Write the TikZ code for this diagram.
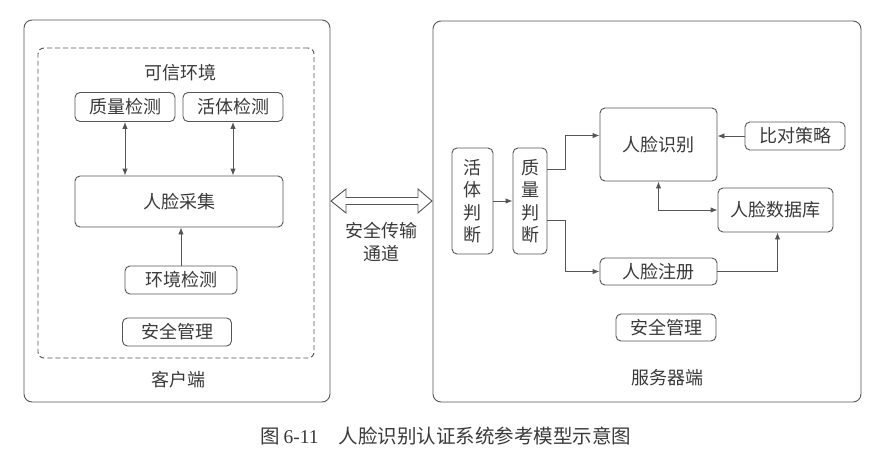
\documentclass[tikz,border=0pt]{standalone}
\usepackage{fontspec}
\setmainfont{Noto Sans CJK SC}
\newfontfamily\capnum{Liberation Serif}
\usetikzlibrary{arrows.meta,calc}
\definecolor{gcol}{HTML}{555555}
\definecolor{tcol}{HTML}{3A3A3A}
\tikzset{
  box/.style={draw=gcol, line width=0.9, rounded corners=5, inner sep=0, text=tcol,
    font=\fontsize{18}{22}\selectfont},
  outerbox/.style={draw=gcol, line width=0.9, rounded corners=8, inner sep=0},
  lbl/.style={text=tcol, inner sep=0, font=\fontsize{18}{22}\selectfont},
  arr/.style={draw=gcol, line width=0.9, -{Latex[length=7,width=5.5]}},
  darr/.style={draw=gcol, line width=0.9, {Latex[length=7,width=5.5]}-{Latex[length=7,width=5.5]}},
}
\begin{document}
\begin{tikzpicture}[x=1pt,y=-1pt]
\useasboundingbox[fill=white] (0,0) rectangle (895,459);
% client
\node[outerbox, minimum width=306, minimum height=382] (client) at (177,211) {};
\node[draw=gcol, line width=0.9, dashed, dash pattern=on 5pt off 3pt, rounded corners=6, minimum width=276, minimum height=310, inner sep=0] (trust) at (176,203) {};
\node[lbl] (trustlbl) at (180,73) {可信环境};
\node[box, minimum width=100, minimum height=29] (qc) at (125,107) {质量检测};
\node[box, minimum width=100, minimum height=29] (lc) at (233,107) {活体检测};
\node[box, minimum width=208, minimum height=51] (cj) at (179,201.5) {人脸采集};
\node[box, minimum width=112, minimum height=28] (env) at (181,280) {环境检测};
\node[box, minimum width=109, minimum height=28] (sec1) at (177,332) {安全管理};
\node[lbl] (clientlbl) at (178,380) {客户端};
\draw[darr] (qc.south) -- (qc.south |- cj.north);
\draw[darr] (lc.south) -- (lc.south |- cj.north);
\draw[arr] (env.north) -- (env.north |- cj.south);
% channel
\draw[draw=gcol, line width=0.9, fill=white]
  (331,201) -- (346,189) -- (346,197.5) -- (418,197.5) -- (418,189) -- (432,201)
  -- (418,213) -- (418,204.5) -- (346,204.5) -- (346,213) -- cycle;
\node[lbl, align=center, font=\fontsize{18}{23}\selectfont] (chlbl) at (381,242) {安全传输\\通道};
% server
\node[outerbox, minimum width=428, minimum height=381] (server) at (647,211.5) {};
\node[box, minimum width=41, minimum height=106, align=center, font=\fontsize{18}{22.5}\selectfont] (hj) at (472.5,201) {活\\体\\判\\断};
\node[box, minimum width=34, minimum height=106, align=center, font=\fontsize{18}{22.5}\selectfont] (zj) at (530,201) {质\\量\\判\\断};
\node[box, minimum width=117, minimum height=73] (rec) at (658.5,144.5) {人脸识别};
\node[box, minimum width=100, minimum height=28] (cmp) at (795,136) {比对策略};
\node[box, minimum width=115, minimum height=44] (db) at (775.5,210) {人脸数据库};
\node[box, minimum width=117, minimum height=27] (reg) at (658.5,271.5) {人脸注册};
\node[box, minimum width=100, minimum height=27] (sec2) at (666,327.5) {安全管理};
\node[lbl] (serverlbl) at (667,378) {服务器端};
\draw[arr] (hj.east) -- (zj.west);
\draw[arr] ([yshift=32]zj.east) -- ++(18,0) |- ([yshift=9]rec.west);
\draw[arr] ([yshift=-19]zj.east) -- ++(18,0) |- (reg.west);
\draw[arr] (reg.east) -| ([xshift=2]db.south);
\draw[darr] (rec.south) |- (db.west);
\draw[arr] (cmp.west) -- (rec.east |- cmp.west);
% caption
\node[text=tcol, inner sep=0, font=\fontsize{19.5}{22}\selectfont] (cap) at (446,436)
  {图\,{\capnum 6-11}\hspace{20pt}人脸识别认证系统参考模型示意图};
\end{tikzpicture}
\end{document}
